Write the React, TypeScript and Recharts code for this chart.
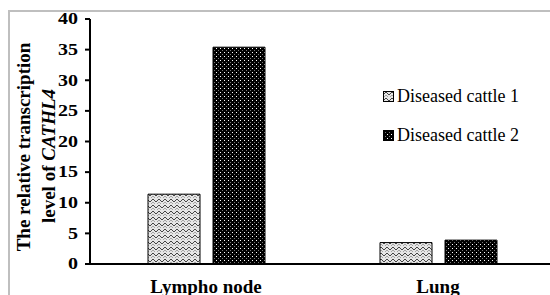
import React from 'react';
import { BarChart, Bar, XAxis, YAxis, Label } from 'recharts';

const categories = ['Lympho node', 'Lung'];
const cattle1 = [11.4, 3.5];
const cattle2 = [35.4, 3.9];
const seriesNames = ['Diseased cattle 1', 'Diseased cattle 2'];
const yTicks = [0, 5, 10, 15, 20, 25, 30, 35, 40];

const data = categories.map((name, i) => ({ name, c1: cattle1[i], c2: cattle2[i] }));

const serif = '"Liberation Serif", "Times New Roman", serif';

const Patterns = ({ prefix }: { prefix: string }) => (
  <defs>
    <pattern id={`${prefix}-zig`} width="6" height="6" patternUnits="userSpaceOnUse">
      <rect width="6" height="6" fill="#e6e6e6" />
      <path d="M0,4 L3,1 L6,4" stroke="#444" strokeWidth="1" fill="none" />
      <path d="M0,7 L3,4 L6,7" stroke="#888" strokeWidth="0.7" fill="none" />
    </pattern>
    <pattern id={`${prefix}-dot`} width="4" height="4" patternUnits="userSpaceOnUse">
      <rect width="4" height="4" fill="#000" />
      <rect x="0" y="0" width="1" height="1" fill="#fff" />
      <rect x="2" y="2" width="1" height="1" fill="#777" />
    </pattern>
  </defs>
);

const YTitle = () => (
  <g fontFamily={serif} fontWeight="bold" fontSize={19} fill="#000">
    <text x={23} y={147} transform="rotate(-90 23 147)" textAnchor="middle" dominantBaseline="central">
      The relative transcription
    </text>
    <text x={48} y={156} transform="rotate(-90 48 156)" textAnchor="middle" dominantBaseline="central">
      level of <tspan fontStyle="italic">CATHL4</tspan>
    </text>
  </g>
);

// reference tick numbers look horizontally stretched
const ValTick = ({ x, y, payload }: any) => (
  <text
    transform={`translate(${x},${y}) scale(1.25,1)`}
    textAnchor="end"
    dominantBaseline="central"
    fontFamily={serif}
    fontWeight="bold"
    fontSize={16}
    fill="#000"
  >
    {payload.value}
  </text>
);

const CatTick = ({ x, payload }: any) => (
  <text x={x} y={293} textAnchor="middle" fontFamily={serif} fontWeight="bold" fontSize={19} fill="#000">
    {payload.value}
  </text>
);

const LegendBox = () => (
  <div style={{ position: 'absolute', left: 383, top: 86, fontFamily: serif, fontSize: 18, color: '#000' }}>
    {seriesNames.map((n, i) => (
      <div key={n} style={{ display: 'flex', alignItems: 'center', height: 20, marginBottom: i === 0 ? 19 : 0 }}>
        <svg width={11} height={11} style={{ marginRight: 3 }}>
          <Patterns prefix={`lg${i}`} />
          <rect x={0.5} y={0.5} width={10} height={10} fill={`url(#lg${i}-${i === 0 ? 'zig' : 'dot'})`} stroke="#000" />
        </svg>
        <span style={{ whiteSpace: 'nowrap' }}>{n}</span>
      </div>
    ))}
  </div>
);

export default function App() {
  return (
    <div style={{ position: 'absolute', left: 0, top: 0, width: 550, height: 295, overflow: 'hidden', background: '#fff' }}>
      <div
        style={{
          position: 'absolute',
          left: 8,
          top: 10,
          width: 700,
          height: 400,
          borderLeft: '2px solid #bfbfbf',
          borderTop: '2px solid #bfbfbf',
        }}
      />
      <div style={{ position: 'absolute', left: 0, top: 0 }}>
        <BarChart
          width={554}
          height={295}
          data={data}
          margin={{ top: 19, right: 0, bottom: 0, left: 0 }}
          barSize={52}
          barGap={13}
        >
          <Patterns prefix="bar" />
          <XAxis
            dataKey="name"
            height={31}
            tickLine={false}
            axisLine={{ stroke: '#000', strokeWidth: 2 }}
            tick={<CatTick />}
            interval={0}
          />
          <YAxis
            width={90}
            domain={[0, 40]}
            ticks={yTicks}
            interval={0}
            tickSize={5}
            tickMargin={7}
            axisLine={{ stroke: '#000', strokeWidth: 2 }}
            tickLine={{ stroke: '#000', strokeWidth: 2 }}
            tick={<ValTick />}
          >
            <Label content={<YTitle />} />
          </YAxis>
          <Bar dataKey="c1" name={seriesNames[0]} fill="url(#bar-zig)" stroke="#000" strokeWidth={1} isAnimationActive={false} />
          <Bar dataKey="c2" name={seriesNames[1]} fill="url(#bar-dot)" stroke="#000" strokeWidth={1} isAnimationActive={false} />
        </BarChart>
      </div>
      <LegendBox />
    </div>
  );
}
